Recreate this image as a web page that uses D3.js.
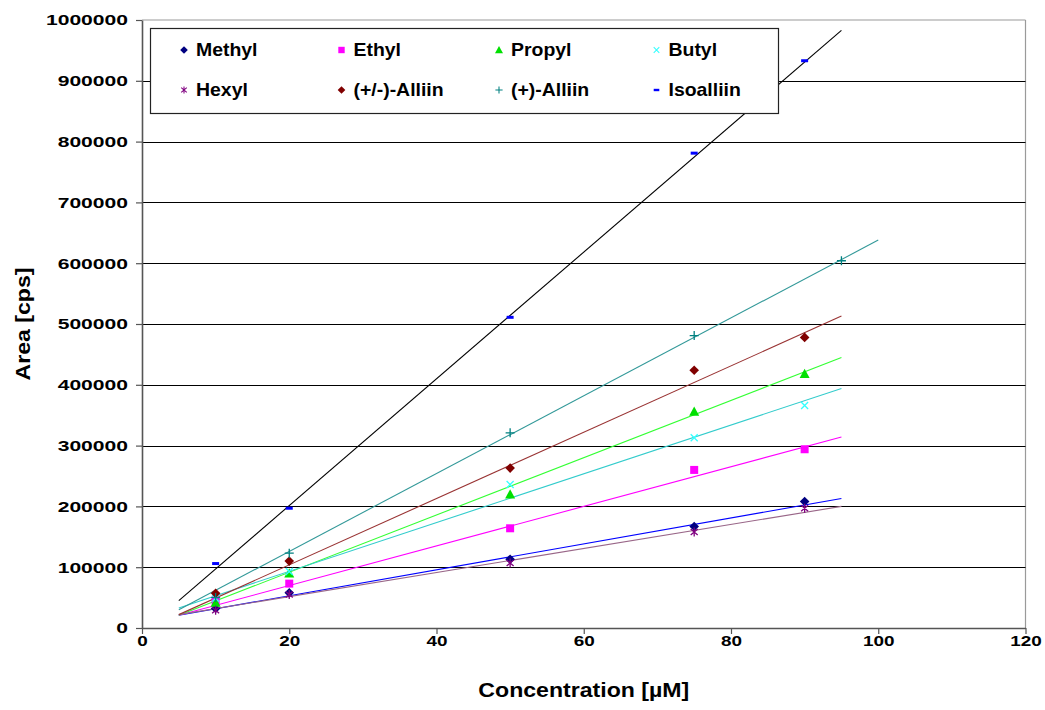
<!DOCTYPE html>
<html>
<head>
<meta charset="utf-8">
<script src="https://cdn.jsdelivr.net/npm/d3@7/dist/d3.min.js"></script>
<style>
  html, body { margin: 0; padding: 0; background: #fff; }
  svg { display: block; font-family: Arial, "Liberation Sans", sans-serif; }
</style>
</head>
<body>
<svg id="chart" width="1045" height="710"></svg>
<script>
// Calibration data: peak area vs concentration for each compound
const seriesNames = ["Methyl", "Ethyl", "Propyl", "Butyl", "Hexyl", "(+/-)-Alliin", "(+)-Alliin", "Isoalliin"];
const concStd = [10, 20, 50, 75, 90];
const concPlus = [10, 20, 50, 75, 95];

const methyl   = [32000, 58000, 113000, 167000, 208000];
const ethyl    = [45000, 73000, 164000, 260000, 294000];
const propyl   = [42000, 90000, 220000, 356000, 418000];
const butyl    = [49000, 93000, 236000, 313000, 366000];
const hexyl    = [29000, 55000, 107000, 158000, 197000];
const alliinRac  = [57000, 110000, 263000, 424000, 478000];
const alliinPlus = [50000, 123000, 321000, 481000, 604000];
const isoalliin  = [106000, 197000, 511000, 781000, 933000];

// Linear trendlines: [x start, y start, x end, y end]
const trendMethyl   = [5, 21000, 95, 213000];
const trendEthyl    = [5, 21000, 95, 314000];
const trendPropyl   = [5, 21000, 95, 445000];
const trendButyl    = [5, 33000, 95, 394000];
const trendHexyl    = [5, 22000, 95, 200000];
const trendRac      = [5, 22000, 95, 513000];
const trendPlus     = [5, 30000, 100, 638000];
const trendIso      = [5, 45000, 95, 983000];

const xTicks = [0, 20, 40, 60, 80, 100, 120];
const yTicks = [0, 100000, 200000, 300000, 400000, 500000, 600000, 700000, 800000, 900000, 1000000];

const series = [
  { name: seriesNames[0], x: concStd,  y: methyl,     trend: trendMethyl, marker: "diamond",  color: "#000080", line: "#0000ff" },
  { name: seriesNames[1], x: concStd,  y: ethyl,      trend: trendEthyl,  marker: "square",   color: "#ff00ff", line: "#ff00ff" },
  { name: seriesNames[2], x: concStd,  y: propyl,     trend: trendPropyl, marker: "triangle", color: "#00e000", line: "#33ff33" },
  { name: seriesNames[3], x: concStd,  y: butyl,      trend: trendButyl,  marker: "x",        color: "#33ffff", line: "#33cccc" },
  { name: seriesNames[4], x: concStd,  y: hexyl,      trend: trendHexyl,  marker: "star",     color: "#800080", line: "#996688" },
  { name: seriesNames[5], x: concStd,  y: alliinRac,  trend: trendRac,    marker: "diamond",  color: "#800000", line: "#993333" },
  { name: seriesNames[6], x: concPlus, y: alliinPlus, trend: trendPlus,   marker: "plus",     color: "#008080", line: "#339999" },
  { name: seriesNames[7], x: concStd,  y: isoalliin,  trend: trendIso,    marker: "dash",     color: "#0000ff", line: "#000000" }
];

const svg = d3.select("#chart");
const margin = { left: 142, top: 20, right: 20, bottom: 82 };
const W = 1045, H = 710;
const pw = W - margin.left - margin.right;
const ph = H - margin.top - margin.bottom;

const x = d3.scaleLinear().domain([0, 120]).range([margin.left, margin.left + pw + 0.5]);
const y = d3.scaleLinear().domain([0, 1000000]).range([margin.top + ph, margin.top]);

// text is drawn slightly wide, as in the original sheet export
const xTickStretch = 1.22;
const yTickStretch = 1.36;
const legendStretch = 1.08;
const titleStretch = 1.1;

// plot area border (top and right)
svg.append("line").attr("x1", x(0)).attr("x2", x(120)).attr("y1", y(1000000)).attr("y2", y(1000000))
  .attr("stroke", "#9a9a9a").attr("stroke-width", 1.2);
svg.append("line").attr("x1", x(120)).attr("x2", x(120)).attr("y1", y(1000000)).attr("y2", y(0))
  .attr("stroke", "#9a9a9a").attr("stroke-width", 1.2);

// horizontal gridlines
svg.append("g").selectAll("line").data(yTicks.filter(t => t > 0 && t < 1000000)).join("line")
  .attr("x1", x(0)).attr("x2", x(120))
  .attr("y1", d => Math.round(y(d)) + 0.5).attr("y2", d => Math.round(y(d)) + 0.5)
  .attr("stroke", "#000").attr("stroke-width", 1.1);

// axes
const xAxis = d3.axisBottom(x).tickValues(xTicks).tickSize(6).tickSizeOuter(0).tickPadding(0);
const yAxis = d3.axisLeft(y).tickValues(yTicks).tickSize(6).tickSizeOuter(0).tickPadding(8).tickFormat(d3.format("d"));

const gx = svg.append("g").attr("transform", `translate(0,${y(0)})`).call(xAxis);
const gy = svg.append("g").attr("transform", `translate(${x(0)},0)`).call(yAxis);
[gx, gy].forEach(g => {
  g.select(".domain").attr("stroke", "#555").attr("stroke-width", 1.6);
  g.selectAll(".tick line").attr("stroke", "#555").attr("stroke-width", 1.2);
  g.selectAll(".tick text").attr("fill", "#000").attr("font-size", "15.5px").attr("font-weight", "bold")
    .attr("font-family", "Arial, 'Liberation Sans', sans-serif");
});
gx.selectAll(".tick text").attr("dy", "0.8em").attr("transform", `scale(${xTickStretch},1)`);
gy.selectAll(".tick text").attr("x", -14 / yTickStretch).attr("transform", `scale(${yTickStretch},1)`);

// axis titles
svg.append("text").attr("transform", `translate(${x(60)},697) scale(${titleStretch},1)`).attr("text-anchor", "middle")
  .attr("font-size", "21px").attr("font-weight", "bold").text("Concentration [µM]");
svg.append("text").attr("transform", `translate(30,${y(500000)}) rotate(-90) scale(${titleStretch},1)`).attr("text-anchor", "middle")
  .attr("font-size", "21px").attr("font-weight", "bold").text("Area [cps]");

// trendlines
const trendG = svg.append("g");
series.forEach(s => {
  trendG.append("line")
    .attr("x1", x(s.trend[0])).attr("y1", y(s.trend[1]))
    .attr("x2", x(s.trend[2])).attr("y2", y(s.trend[3]))
    .attr("stroke", s.line).attr("stroke-width", 1.1);
});

// marker drawing
function drawMarker(g, type, color, cx, cy, k = 1) {
  const t = `translate(${cx},${cy}) scale(${k})`;
  switch (type) {
    case "diamond":
      g.append("path").attr("transform", t).attr("d", "M0,-4.8L4.8,0L0,4.8L-4.8,0Z").attr("fill", color);
      break;
    case "square":
      g.append("path").attr("transform", t).attr("d", "M-4,-4H4V4H-4Z").attr("fill", color);
      break;
    case "triangle":
      g.append("path").attr("transform", t).attr("d", "M0,-5L5,4.2L-5,4.2Z").attr("fill", color);
      break;
    case "x":
      g.append("path").attr("transform", t).attr("d", "M-3.5,-3.5L3.5,3.5M-3.5,3.5L3.5,-3.5")
        .attr("stroke", color).attr("stroke-width", 1.3).attr("fill", "none");
      break;
    case "star":
      g.append("path").attr("transform", t).attr("d", "M-3.5,-3L3.5,3M-3.5,3L3.5,-3M0,-4.5L0,4.5")
        .attr("stroke", color).attr("stroke-width", 1.3).attr("fill", "none");
      break;
    case "plus":
      g.append("path").attr("transform", t).attr("d", "M-4.5,0L4.5,0M0,-4.5L0,4.5")
        .attr("stroke", color).attr("stroke-width", 1.3).attr("fill", "none");
      break;
    case "dash":
      g.append("path").attr("transform", t).attr("d", "M-3.5,-1.5H3.5V1.5H-3.5Z").attr("fill", color);
      break;
  }
}

const markG = svg.append("g");
series.forEach(s => {
  s.x.forEach((xv, i) => drawMarker(markG, s.marker, s.color, x(xv), y(s.y[i])));
});

// legend
const legend = svg.append("g");
legend.append("rect").attr("x", 150.5).attr("y", 28.5).attr("width", 628).attr("height", 85)
  .attr("fill", "#fff").attr("stroke", "#222").attr("stroke-width", 1.2);
series.forEach((s, i) => {
  const col = i % 4, row = Math.floor(i / 4);
  const lx = 184 + col * 157.5, ly = 50 + row * 40;
  drawMarker(legend, s.marker, s.color, lx, ly, 0.8);
  legend.append("text").attr("transform", `translate(${lx + 12},${ly}) scale(${legendStretch},1)`).attr("dy", "0.36em")
    .attr("font-size", "18px").attr("font-weight", "bold").attr("fill", "#000").text(s.name);
});
</script>
</body>
</html>
